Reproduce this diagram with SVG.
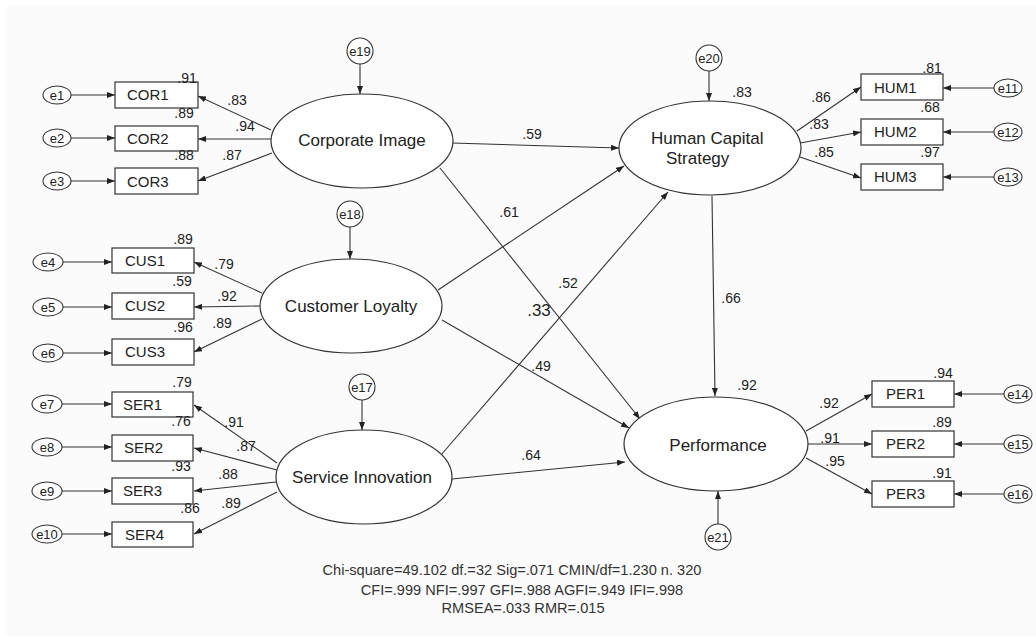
<svg xmlns="http://www.w3.org/2000/svg" width="1036" height="636" viewBox="0 0 1036 636">
<defs>
<marker id="ah" viewBox="0 0 8 6" refX="8" refY="3" markerWidth="8" markerHeight="6" orient="auto" markerUnits="userSpaceOnUse"><path d="M0,0 L8,3 L0,6 z" fill="#222"/></marker>
<style>
text{font-family:"Liberation Sans",Arial,sans-serif;fill:#222}
.lat{fill:#fff;stroke:#333;stroke-width:1.2}
.box{fill:#fff;stroke:#333;stroke-width:1.2}
.err{fill:#fff;stroke:#333;stroke-width:1.1}
.big{font-size:17px;text-anchor:middle}
.bt{font-size:15px}
.et{font-size:13px;text-anchor:middle}
.n{font-size:14px;text-anchor:middle}
.c line{stroke:#333;stroke-width:1.1;marker-end:url(#ah)}
.fit{font-size:14.6px;text-anchor:middle;fill:#333}
</style>
</defs>
<rect width="1036" height="636" fill="#ffffff"/>
<rect x="7" y="5" width="1029" height="631" fill="#fbfbfb"/>
<g class="c" id="connectors">
<line x1="71" y1="95" x2="115" y2="95"/>
<line x1="71" y1="138" x2="115" y2="138"/>
<line x1="71" y1="181" x2="115" y2="181"/>
<line x1="63" y1="262" x2="112" y2="262"/>
<line x1="63" y1="307" x2="112" y2="307"/>
<line x1="63" y1="353" x2="112" y2="353"/>
<line x1="62" y1="404" x2="112" y2="404"/>
<line x1="62" y1="447" x2="112" y2="447"/>
<line x1="62" y1="491" x2="112" y2="491"/>
<line x1="62" y1="534" x2="112" y2="534"/>
<line x1="994" y1="88" x2="943" y2="88"/>
<line x1="994" y1="132" x2="943" y2="132"/>
<line x1="994" y1="177" x2="943" y2="177"/>
<line x1="1004" y1="394" x2="954" y2="394"/>
<line x1="1004" y1="444" x2="954" y2="444"/>
<line x1="1004" y1="494" x2="954" y2="494"/>
<line x1="360" y1="64" x2="360" y2="94"/>
<line x1="350" y1="227" x2="350" y2="259"/>
<line x1="362" y1="400" x2="362" y2="430"/>
<line x1="709" y1="71" x2="709" y2="101"/>
<line x1="718" y1="524" x2="718" y2="491"/>
<line x1="271" y1="130" x2="198" y2="96"/>
<line x1="271" y1="139" x2="198" y2="139"/>
<line x1="272" y1="153" x2="198" y2="181"/>
<line x1="262" y1="293" x2="194" y2="262"/>
<line x1="260" y1="306" x2="194" y2="307"/>
<line x1="262" y1="319" x2="194" y2="352"/>
<line x1="277" y1="463" x2="194" y2="405"/>
<line x1="277" y1="470" x2="194" y2="448"/>
<line x1="276" y1="482" x2="194" y2="491"/>
<line x1="277" y1="492" x2="194" y2="534"/>
<line x1="797" y1="131" x2="861" y2="87"/>
<line x1="800" y1="143" x2="861" y2="132"/>
<line x1="800" y1="157" x2="861" y2="178"/>
<line x1="806" y1="431" x2="872" y2="394"/>
<line x1="808" y1="444" x2="872" y2="444"/>
<line x1="806" y1="458" x2="872" y2="494"/>
<line x1="452" y1="143" x2="619" y2="148"/>
<line x1="440" y1="168" x2="640" y2="419"/>
<line x1="438" y1="290" x2="624" y2="166"/>
<line x1="442" y1="320" x2="629" y2="428"/>
<line x1="441" y1="455" x2="668" y2="192"/>
<line x1="452" y1="479" x2="625" y2="462"/>
<line x1="712" y1="196" x2="715" y2="396"/>
</g>
<g id="corporate_image"><ellipse class="lat" cx="362" cy="141" rx="91" ry="47"/><text class="big" x="362" y="146">Corporate Image</text></g>
<g id="customer_loyalty"><ellipse class="lat" cx="351" cy="306" rx="91" ry="47"/><text class="big" x="351" y="312">Customer Loyalty</text></g>
<g id="service_innovation"><ellipse class="lat" cx="364" cy="477" rx="88" ry="47"/><text class="big" x="362" y="483">Service Innovation</text></g>
<g id="human_capital_strategy"><ellipse class="lat" cx="710" cy="148" rx="91" ry="47"/><text style="font-size:17px" x="651" y="144">Human Capital</text><text style="font-size:17px" x="666" y="164">Strategy</text></g>
<g id="performance"><ellipse class="lat" cx="716" cy="444" rx="92" ry="47"/><text class="big" x="718" y="451">Performance</text></g>
<g id="COR1"><rect class="box" x="115" y="82" width="83" height="26"/><text class="bt" x="127" y="100">COR1</text></g>
<g id="COR2"><rect class="box" x="115" y="126" width="83" height="25"/><text class="bt" x="127" y="144">COR2</text></g>
<g id="COR3"><rect class="box" x="115" y="168" width="83" height="26"/><text class="bt" x="127" y="187">COR3</text></g>
<g id="CUS1"><rect class="box" x="112" y="248" width="82" height="25"/><text class="bt" x="125" y="266">CUS1</text></g>
<g id="CUS2"><rect class="box" x="112" y="293" width="82" height="26"/><text class="bt" x="125" y="311">CUS2</text></g>
<g id="CUS3"><rect class="box" x="112" y="339" width="82" height="26"/><text class="bt" x="125" y="357">CUS3</text></g>
<g id="SER1"><rect class="box" x="112" y="392" width="81" height="25"/><text class="bt" x="123" y="410">SER1</text></g>
<g id="SER2"><rect class="box" x="112" y="435" width="81" height="26"/><text class="bt" x="124" y="453">SER2</text></g>
<g id="SER3"><rect class="box" x="112" y="478" width="81" height="26"/><text class="bt" x="123" y="496">SER3</text></g>
<g id="SER4"><rect class="box" x="112" y="522" width="81" height="25"/><text class="bt" x="125" y="540">SER4</text></g>
<g id="HUM1"><rect class="box" x="861" y="74" width="82" height="26"/><text class="bt" x="874" y="93">HUM1</text></g>
<g id="HUM2"><rect class="box" x="861" y="119" width="82" height="26"/><text class="bt" x="874" y="137">HUM2</text></g>
<g id="HUM3"><rect class="box" x="861" y="164" width="82" height="26"/><text class="bt" x="874" y="182">HUM3</text></g>
<g id="PER1"><rect class="box" x="872" y="381" width="82" height="26"/><text class="bt" x="886" y="399">PER1</text></g>
<g id="PER2"><rect class="box" x="872" y="431" width="82" height="26"/><text class="bt" x="886" y="449">PER2</text></g>
<g id="PER3"><rect class="box" x="872" y="481" width="82" height="26"/><text class="bt" x="886" y="499">PER3</text></g>
<g id="e1"><ellipse class="err" cx="57" cy="95" rx="14" ry="9"/><text class="et" x="57" y="99.5">e1</text></g>
<g id="e2"><ellipse class="err" cx="57" cy="138" rx="14" ry="9"/><text class="et" x="57" y="142.5">e2</text></g>
<g id="e3"><ellipse class="err" cx="57" cy="181" rx="14" ry="9"/><text class="et" x="57" y="185.5">e3</text></g>
<g id="e4"><ellipse class="err" cx="48" cy="262" rx="15" ry="9"/><text class="et" x="48" y="266.5">e4</text></g>
<g id="e5"><ellipse class="err" cx="48" cy="307" rx="15" ry="9"/><text class="et" x="48" y="311.5">e5</text></g>
<g id="e6"><ellipse class="err" cx="48" cy="353" rx="15" ry="9"/><text class="et" x="48" y="357.5">e6</text></g>
<g id="e7"><ellipse class="err" cx="47" cy="404" rx="15" ry="9"/><text class="et" x="47" y="408.5">e7</text></g>
<g id="e8"><ellipse class="err" cx="47" cy="447" rx="15" ry="9"/><text class="et" x="47" y="451.5">e8</text></g>
<g id="e9"><ellipse class="err" cx="47" cy="491" rx="15" ry="9"/><text class="et" x="47" y="495.5">e9</text></g>
<g id="e10"><ellipse class="err" cx="47" cy="534" rx="15" ry="9"/><text class="et" x="47" y="538.5">e10</text></g>
<g id="e11"><ellipse class="err" cx="1008" cy="88" rx="14" ry="9"/><text class="et" x="1008" y="92.5">e11</text></g>
<g id="e12"><ellipse class="err" cx="1008" cy="132" rx="14" ry="9"/><text class="et" x="1008" y="136.5">e12</text></g>
<g id="e13"><ellipse class="err" cx="1008" cy="177" rx="14" ry="9"/><text class="et" x="1008" y="181.5">e13</text></g>
<g id="e14"><ellipse class="err" cx="1018" cy="394" rx="14" ry="9"/><text class="et" x="1018" y="398.5">e14</text></g>
<g id="e15"><ellipse class="err" cx="1018" cy="444" rx="14" ry="9"/><text class="et" x="1018" y="448.5">e15</text></g>
<g id="e16"><ellipse class="err" cx="1018" cy="494" rx="14" ry="9"/><text class="et" x="1018" y="498.5">e16</text></g>
<g id="e17"><circle class="err" cx="362" cy="387" r="13"/><text class="et" x="362" y="391.5">e17</text></g>
<g id="e18"><circle class="err" cx="350" cy="214" r="13"/><text class="et" x="350" y="218.5">e18</text></g>
<g id="e19"><circle class="err" cx="360" cy="51" r="13"/><text class="et" x="360" y="55.5">e19</text></g>
<g id="e20"><circle class="err" cx="709" cy="58" r="13"/><text class="et" x="709" y="62.5">e20</text></g>
<g id="e21"><circle class="err" cx="718" cy="537" r="13"/><text class="et" x="718" y="541.5">e21</text></g>
<g id="labels">
<text class="n" x="187" y="83">.91</text>
<text class="n" x="184" y="118">.89</text>
<text class="n" x="184" y="160">.88</text>
<text class="n" x="237" y="105">.83</text>
<text class="n" x="245" y="131">.94</text>
<text class="n" x="232" y="160">.87</text>
<text class="n" x="183" y="244">.89</text>
<text class="n" x="224" y="269">.79</text>
<text class="n" x="182" y="286">.59</text>
<text class="n" x="227" y="301">.92</text>
<text class="n" x="222" y="328">.89</text>
<text class="n" x="183" y="332">.96</text>
<text class="n" x="182" y="387">.79</text>
<text class="n" x="234" y="427">.91</text>
<text class="n" x="181" y="426">.76</text>
<text class="n" x="246" y="451">.87</text>
<text class="n" x="181" y="471">.93</text>
<text class="n" x="228" y="479">.88</text>
<text class="n" x="190" y="513">.86</text>
<text class="n" x="231" y="508">.89</text>
<text class="n" x="932" y="73">.81</text>
<text class="n" x="742" y="97">.83</text>
<text class="n" x="821" y="102">.86</text>
<text class="n" x="819" y="129">.83</text>
<text class="n" x="930" y="112">.68</text>
<text class="n" x="824" y="157">.85</text>
<text class="n" x="930" y="157">.97</text>
<text class="n" x="747" y="390">.92</text>
<text class="n" x="943" y="378">.94</text>
<text class="n" x="829" y="408">.92</text>
<text class="n" x="942" y="427">.89</text>
<text class="n" x="830" y="443">.91</text>
<text class="n" x="835" y="466">.95</text>
<text class="n" x="942" y="478">.91</text>
<text class="n" x="532" y="139">.59</text>
<text class="n" x="509" y="217">.61</text>
<text class="n" x="568" y="288">.52</text>
<text class="n" x="539" y="316" style="font-size:17px">.33</text>
<text class="n" x="541" y="371">.49</text>
<text class="n" x="531" y="460">.64</text>
<text class="n" x="731" y="303">.66</text>
</g>
<g id="fit">
<text class="fit" x="512" y="575">Chi-square=49.102 df.=32 Sig=.071 CMIN/df=1.230 n. 320</text>
<text class="fit" x="522" y="595">CFI=.999 NFI=.997 GFI=.988 AGFI=.949 IFI=.998</text>
<text class="fit" x="523" y="613">RMSEA=.033 RMR=.015</text>
</g>
</svg>
